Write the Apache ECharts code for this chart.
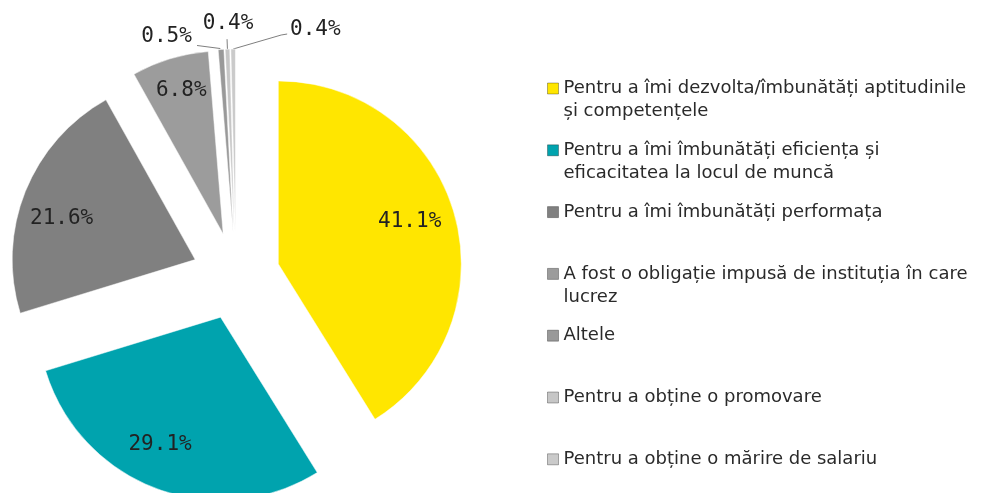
<!DOCTYPE html>
<html>
<head>
<meta charset="utf-8">
<script src="https://cdn.jsdelivr.net/npm/echarts@6/dist/echarts.min.js"></script>
<style>
html, body { margin: 0; padding: 0; background: #fff; }
#chart { width: 983px; height: 493px; }
</style>
</head>
<body>
<div id="chart"></div>
<script>
// categories (legend order = slice order, clockwise from 12 o'clock)
var categories = [
  'Pentru a îmi dezvolta/îmbunătăți aptitudinile și competențele',
  'Pentru a îmi îmbunătăți eficiența și eficacitatea la locul de muncă',
  'Pentru a îmi îmbunătăți performața',
  'A fost o obligație impusă de instituția în care lucrez',
  'Altele',
  'Pentru a obține o promovare',
  'Pentru a obține o mărire de salariu'
]
// how the legend wraps each name
var legendLines = [
  ['Pentru a îmi dezvolta/îmbunătăți aptitudinile', 'și competențele'],
  ['Pentru a îmi îmbunătăți eficiența și', 'eficacitatea la locul de muncă'],
  ['Pentru a îmi îmbunătăți performața'],
  ['A fost o obligație impusă de instituția în care', 'lucrez'],
  ['Altele'],
  ['Pentru a obține o promovare'],
  ['Pentru a obține o mărire de salariu']
]
var values = [41.1, 29.1, 21.6, 6.8, 0.5, 0.4, 0.4]
var colors = ['#ffe600', '#00a3ae', '#808080', '#9c9c9c', '#999999', '#c6c6c6', '#cacaca']

var myChart = echarts.init(document.getElementById('chart'))

var R = 183
var OFFSET = 44
var CENTER = [236, 276]
var LH = 23
var labelFont = { fontFamily: 'DejaVu Sans Mono', fontSize: 21, color: '#222222' }

// small slices get outside labels with leader lines
var outerLines = {
  4: { length: 2, length2: 22 },
  5: { length: 10, length2: 0 },
  6: { length: 12, length2: 30 }
}
// nudges of the labels from where the pie puts them,
// line: leader bends relative to the slice edge point
var outerNudge = {
  4: { dx: -2, dy: -11, line: [[-1, -1], [-24, -4]] },
  5: { dx: 6, dy: -16, align: 'center' },
  6: { dx: 92, dy: -7, align: 'left', line: [[48, -14], [54, -15]] }
}
var innerNudge = {
  0: { dx: -7, dy: -3 },
  1: { dx: -10, dy: -7 },
  2: { dx: 0, dy: 13 },
  3: { dx: 0, dy: -6 }
}

var option = {
  backgroundColor: '#ffffff',
  animation: false,
  legend: {
    orient: 'vertical',
    left: 547,
    top: 54,
    height: 1000,
    padding: 0,
    icon: 'rect',
    itemWidth: 11,
    itemHeight: 11,
    itemGap: -7.2,
    itemStyle: { borderColor: 'rgba(0,0,0,0.3)', borderWidth: 1 },
    textStyle: {
      fontFamily: 'DejaVu Sans',
      fontSize: 18,
      color: '#2a2a2a',
      lineHeight: LH,
      backgroundColor: 'rgba(0,0,0,0)'
    },
    // three lines per item (blank first) so the icon sits on the first text line
    formatter: function (name) {
      var l = legendLines[categories.indexOf(name)]
      return '\n' + l[0] + '\n' + (l[1] || '')
    },
    data: categories
  },
  series: [
    {
      type: 'pie',
      center: CENTER,
      radius: R,
      selectedMode: 'multiple',
      selectedOffset: OFFSET,
      avoidLabelOverlap: false,
      itemStyle: { borderColor: '#ffffff', borderWidth: 0.5 },
      label: { show: false },
      labelLine: { show: false },
      emphasis: { disabled: true },
      labelLayout: function (params) {
        var n = outerNudge[params.dataIndex]
        if (!n) return {}
        var out = { dx: n.dx, dy: n.dy, align: n.align, hideOverlap: false }
        var p = params.labelLinePoints
        if (p && n.line) {
          out.labelLinePoints = [
            p[0],
            [p[0][0] + n.line[0][0], p[0][1] + n.line[0][1]],
            [p[0][0] + n.line[1][0], p[0][1] + n.line[1][1]]
          ]
        }
        return out
      },
      data: values.map(function (v, i) {
        var item = {
          name: categories[i],
          value: v,
          selected: true,
          itemStyle: { color: colors[i] }
        }
        if (outerLines[i]) {
          item.label = Object.assign({ show: true, position: 'outside', formatter: '{c}%' }, labelFont)
          item.labelLine = {
            show: true,
            length: outerLines[i].length,
            length2: outerLines[i].length2,
            lineStyle: { color: '#7f7f7f', width: 1 }
          }
        }
        return item
      })
    },
    {
      // transparent ring on top, only to put the big labels further out
      type: 'pie',
      center: CENTER,
      radius: [R * 0.54, R],
      selectedMode: 'multiple',
      selectedOffset: OFFSET,
      silent: true,
      itemStyle: { color: 'rgba(0,0,0,0)' },
      label: Object.assign({ position: 'inside', formatter: '{c}%' }, labelFont),
      labelLine: { show: false },
      emphasis: { disabled: true },
      labelLayout: function (params) {
        var n = innerNudge[params.dataIndex]
        return n ? { dx: n.dx, dy: n.dy } : {}
      },
      data: values.map(function (v, i) {
        return { name: categories[i], value: v, selected: true, label: { show: !outerLines[i] } }
      })
    }
  ]
}
myChart.setOption(option)
</script>
</body>
</html>
